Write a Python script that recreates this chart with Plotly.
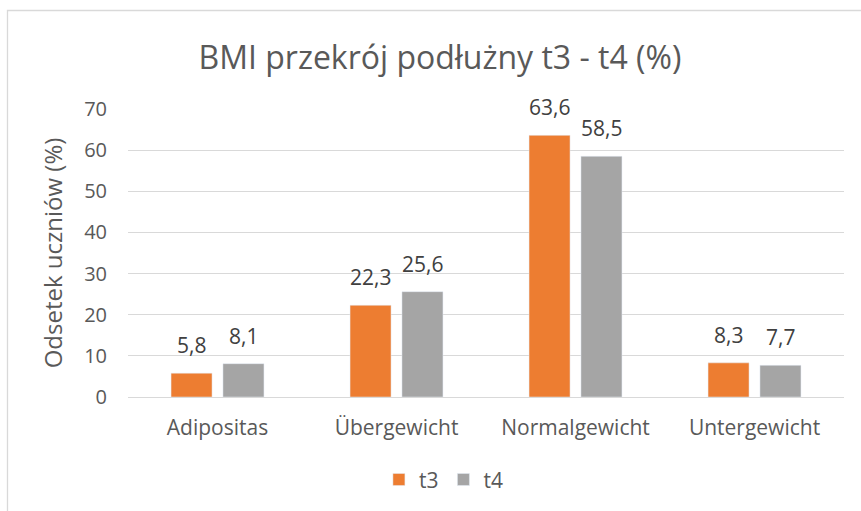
import plotly.graph_objects as go

categories = ["Adipositas", "Übergewicht", "Normalgewicht", "Untergewicht"]
t3_values = [5.8, 22.3, 63.6, 8.3]
t4_values = [8.1, 25.6, 58.5, 7.7]
y_ticks = [0, 10, 20, 30, 40, 50, 60, 70]

FONT = "Open Sans, sans-serif"
TXT = "#595959"
LBL = "#404040"

fig = go.Figure()
fig.add_trace(go.Bar(name="t3", x=categories, y=t3_values, marker_color="#ED7D31"))
fig.add_trace(go.Bar(name="t4", x=categories, y=t4_values, marker_color="#A5A5A5"))

# data labels as annotations (offset to each bar's slot in the group)
for vals, shift in ((t3_values, -26), (t4_values, 26)):
    for c, v in zip(categories, vals):
        fig.add_annotation(x=c, y=v, xref="x", yref="y", text=f"{v:.1f}".replace(".", ","),
                           showarrow=False, xshift=shift, yshift=12, yanchor="bottom",
                           font=dict(size=21, color=LBL, family=FONT))

fig.update_layout(
    width=861, height=511,
    paper_bgcolor="white", plot_bgcolor="white",
    margin=dict(l=128, r=17, t=109, b=114, autoexpand=False),
    barmode="group", bargap=0.42, bargroupgap=0.21,
    font=dict(family=FONT, color=TXT, size=20),
    title=dict(text="BMI przekrój podłużny t3 - t4 (%)", x=0.511, xref="container",
               xanchor="center", y=0.886, yref="container", yanchor="middle",
               font=dict(size=32, color=TXT, family=FONT)),
    legend=dict(orientation="h", x=0.515, xref="container", xanchor="center",
                y=0.061, yref="container", yanchor="middle",
                font=dict(size=21, color=TXT, family=FONT), itemwidth=30,
                traceorder="normal"),
    showlegend=True,
    shapes=[dict(type="rect", xref="paper", yref="paper",
                 x0=(7.5 - 128) / 716, x1=(870 - 128) / 716,
                 y0=(397 - 530) / 288, y1=(397 - 10.5) / 288,
                 line=dict(color="#D9D9D9", width=1.3), fillcolor="rgba(0,0,0,0)",
                 layer="below")],
)
fig.update_yaxes(range=[0, 70], tickvals=y_ticks, showgrid=True, gridcolor="#D9D9D9",
                 gridwidth=1.3, zeroline=False, showline=False, ticks="",
                 ticklabelstandoff=20, automargin=False,
                 tickfont=dict(size=20, color=TXT, family=FONT),
                 title=dict(text="Odsetek uczniów (%)", standoff=14,
                            font=dict(size=24, color=TXT, family=FONT)))
fig.update_xaxes(showline=True, linecolor="#D9D9D9", linewidth=1.3, ticks="",
                 showgrid=False, tickfont=dict(size=21, color=TXT, family=FONT),
                 ticklabelstandoff=12, automargin=False)

fig.write_html("out.html", config={"displayModeBar": False},
               post_script="document.body.style.margin='0px';")
